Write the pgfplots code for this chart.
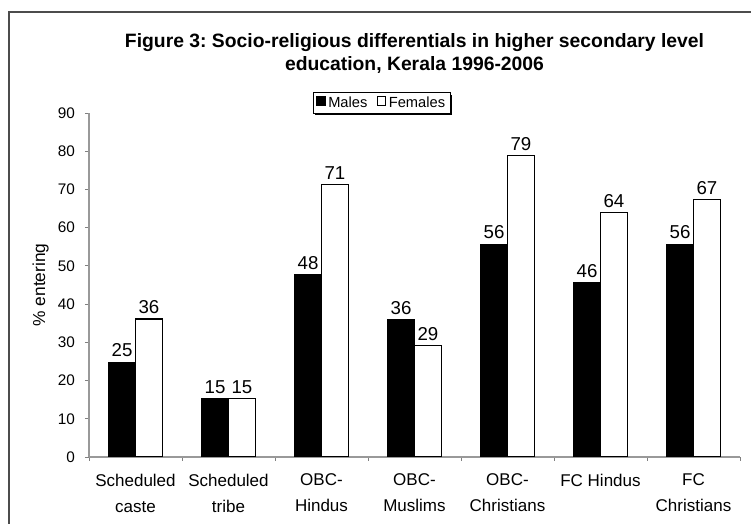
\documentclass[border=0pt]{standalone}
\usepackage{fontspec}
\setmainfont{Liberation Sans}
\usepackage{pgfplots}
\pgfplotsset{compat=1.18}
\usetikzlibrary{shadows}
\frenchspacing
\makeatletter
\tikzset{no preactions/.code={\let\tikz@preactions=\pgfutil@empty}}
\makeatother

\begin{document}
\begin{tikzpicture}
% page frame: 751 x 524 px at 0.75pt per px
\path[use as bounding box] (0,0) rectangle (563.25pt,393pt);
\draw[black!70, line width=1.1pt] (6.75pt,0) -- (6.75pt,384pt) -- (563.25pt,384pt);

\begin{axis}[
    at={(66.75pt,50.25pt)}, anchor=south west,
    scale only axis,
    width=488.25pt, height=258pt,
    ybar=0pt, bar width=0.29,
    xmin=-0.5, xmax=6.5, ymin=0, ymax=90,
    enlargelimits=false,
    axis lines*=left,
    axis line style={black!40, line width=0.8pt},
    tick style={black!50, line width=0.6pt},
    tick align=outside,
    major tick length=3pt,
    xtick={-0.5,0.5,...,6.5},
    x tick label as interval,
    xticklabels={Scheduled\\caste, Scheduled\\tribe, OBC-\\Hindus, OBC-\\Muslims, OBC-\\Christians, FC Hindus, FC\\Christians},
    xticklabel style={align=center, font=\fontsize{12.75}{19.5}\selectfont, yshift=-6pt},
    ytick={0,10,...,90},
    yticklabel style={font=\fontsize{11.5}{13}\selectfont, xshift=-4pt},
    ylabel={\% entering},
    ylabel style={font=\fontsize{13}{15}\selectfont},
    /pgf/number format/assume math mode=true,
    nodes near coords,
    nodes near coords style={font=\fontsize{14}{16}\selectfont, /pgf/number format/.cd, fixed, precision=0},
    title={Figure 3: Socio-religious differentials in higher secondary level\\education, Kerala 1996-2006},
    title style={align=center, font=\bfseries\fontsize{14.5}{17.5}\selectfont, at={(0.5,1.15)}, anchor=center},
    legend columns=2,
    legend style={at={(0.45,1.029)}, anchor=center, draw=black, line width=0.75pt,
        font=\fontsize{11}{12}\selectfont, inner xsep=2pt, inner ysep=1pt,
        /tikz/every even column/.append style={column sep=5pt},
        drop shadow={shadow xshift=1.5pt, shadow yshift=-1.5pt, opacity=1, fill=black}},
    legend image code/.code={\draw[no preactions, #1, line width=0.6pt] (0pt,-1.5pt) rectangle (6.5pt,5pt);},
]
\addplot[fill=black, draw=black, line width=0.9pt] coordinates {
    (0,24.8) (1,15.3) (2,47.8) (3,35.9) (4,55.7) (5,45.7) (6,55.7)
};
\addlegendentry{Males}
\addplot[fill=white, draw=black, line width=0.9pt] coordinates {
    (0,36.1) (1,15.3) (2,71.2) (3,29.2) (4,78.9) (5,64.0) (6,67.3)
};
\addlegendentry{Females}
\end{axis}
\end{tikzpicture}
\end{document}
